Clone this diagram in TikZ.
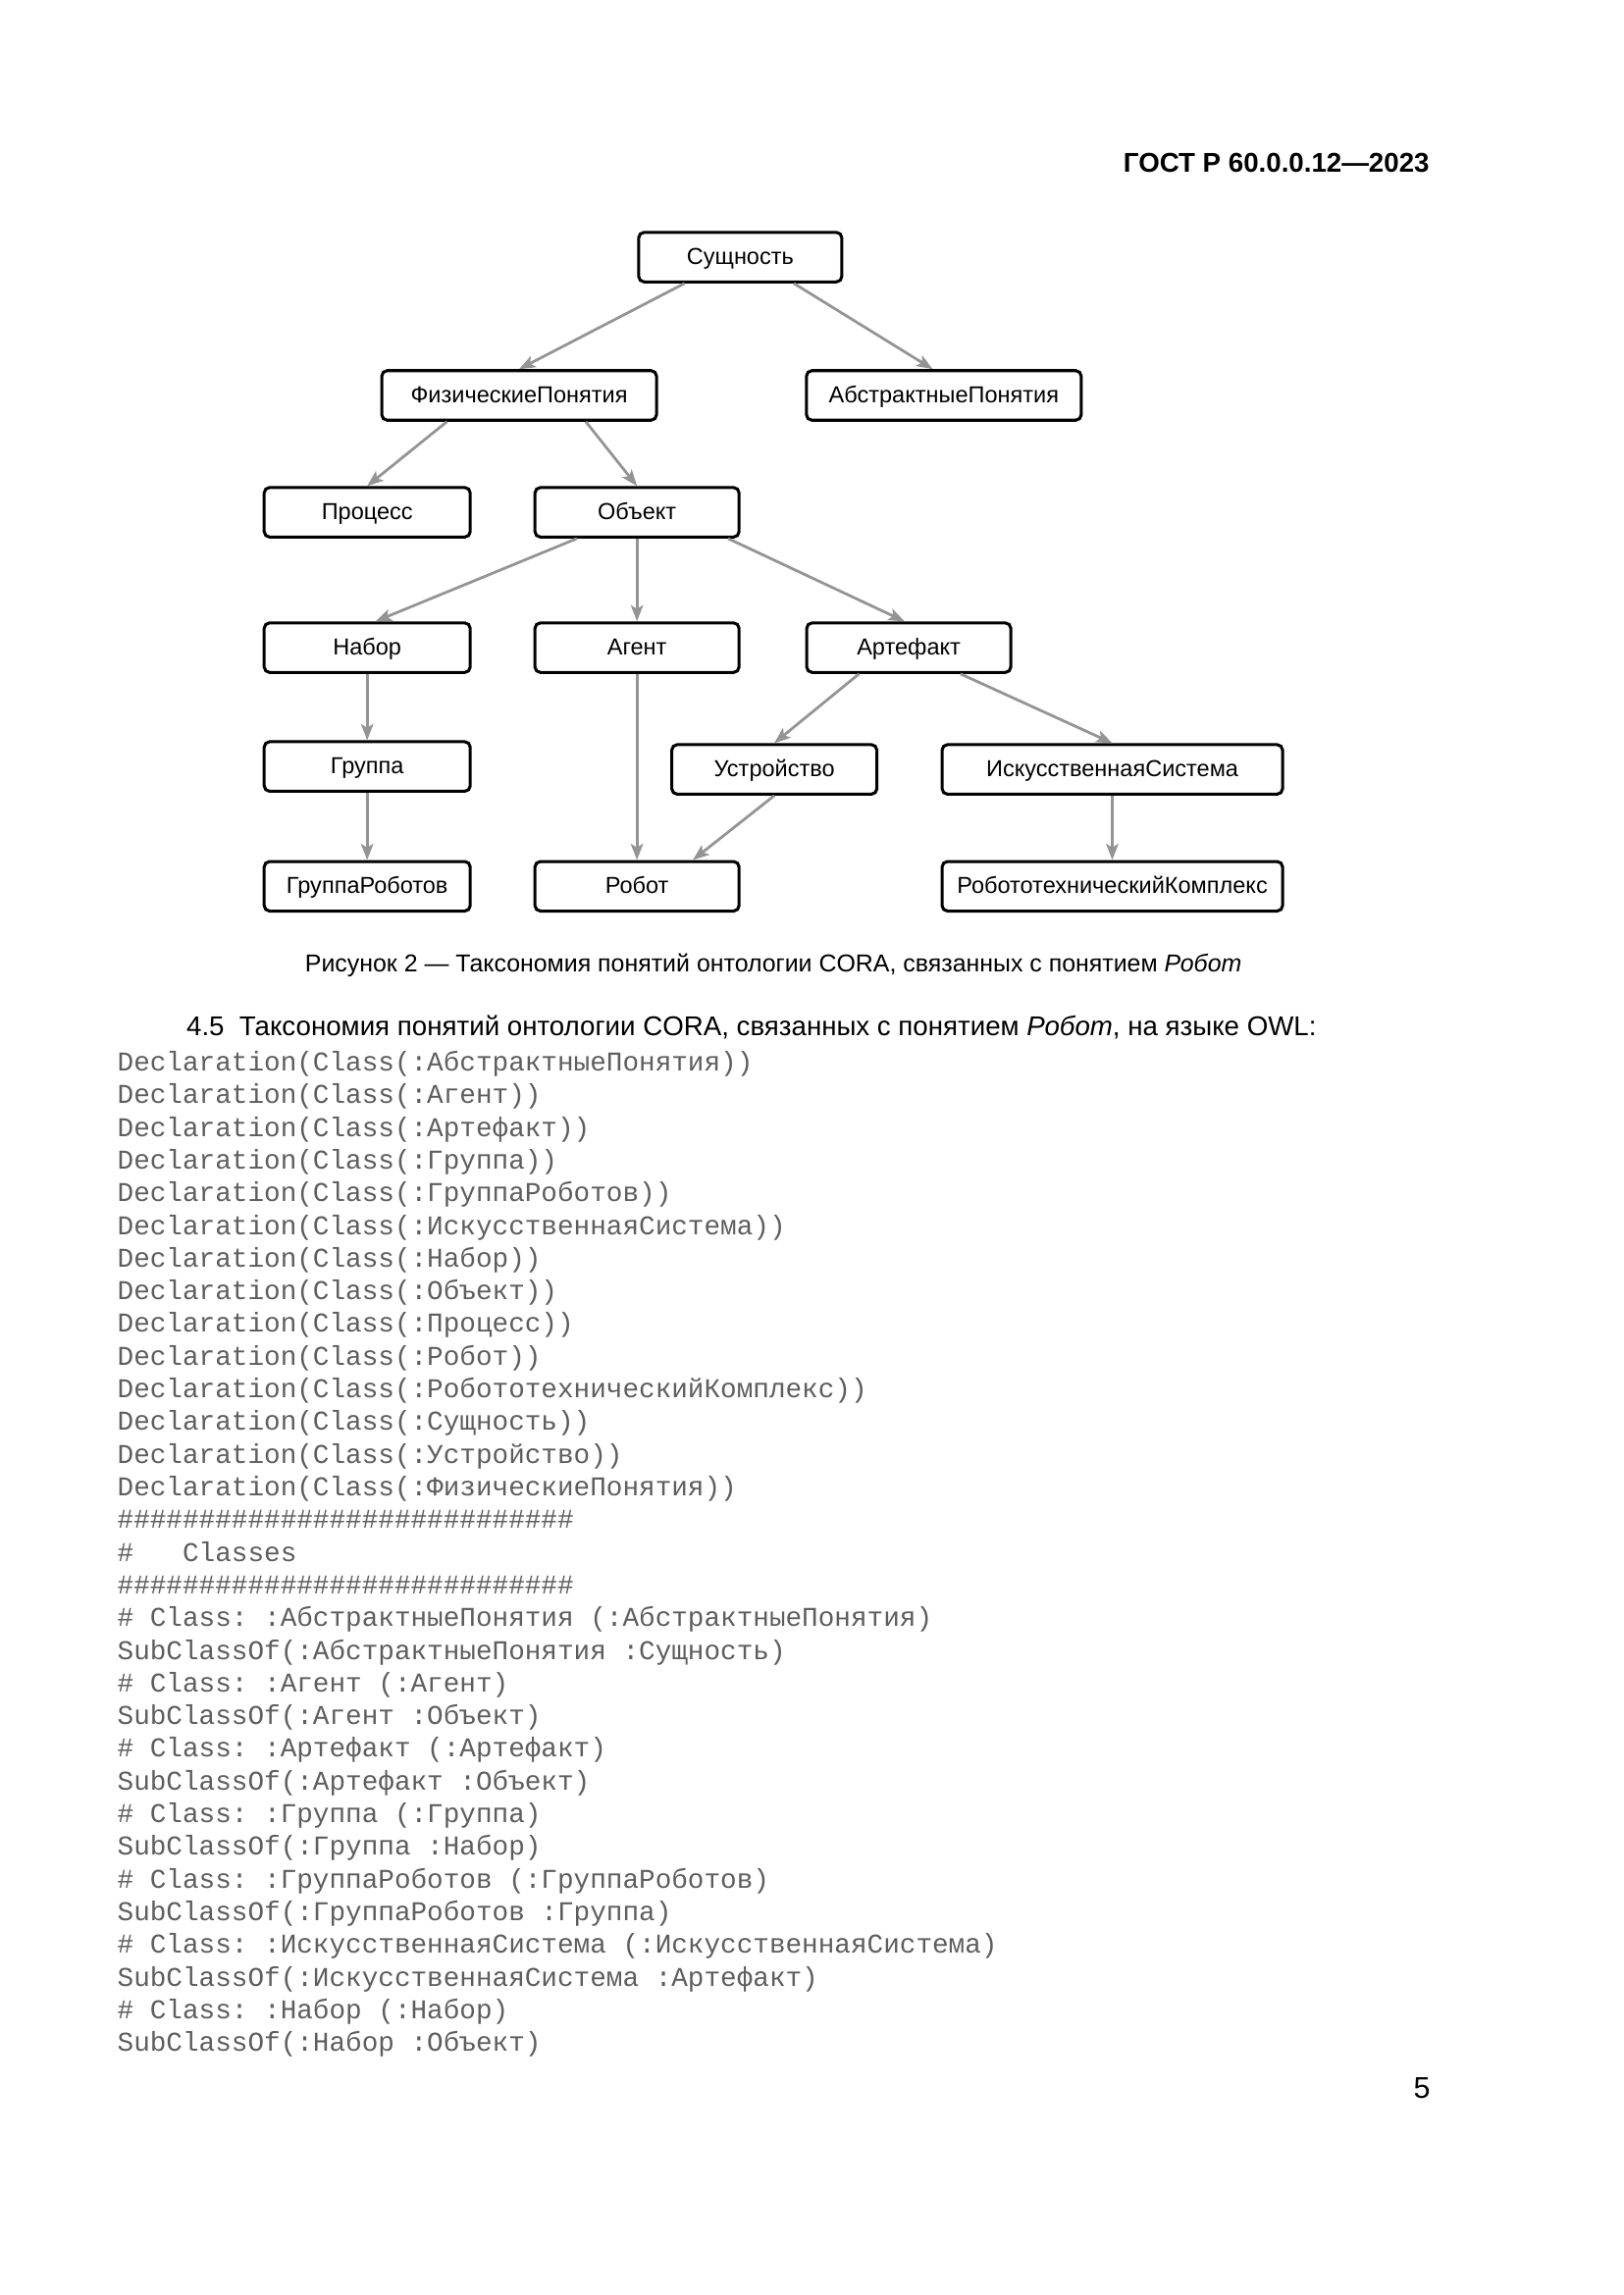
\documentclass[tikz,border=0pt]{standalone}
\usepackage{fontspec}
\setmainfont{Liberation Sans}
\setmonofont{Liberation Mono}
\usetikzlibrary{arrows.meta,calc}
\newlength\pxu \setlength\pxu{0.12697mm}
\definecolor{arrowgray}{gray}{0.58}
\definecolor{codegray}{gray}{0.37}
\begin{document}
\begin{tikzpicture}[x=\pxu,y=-\pxu,
 box/.style={draw,line width=1.1pt,rounded corners=2pt,minimum height=50.5\pxu,inner sep=0pt,text height=6.5pt,text depth=1pt,font=\fontsize{8.5}{10}\selectfont},
 edge/.style={draw=arrowgray,line width=1pt,-{Stealth[length=2.1mm,width=1.6mm,inset=0.5mm]}},
 code/.style={anchor=west,inner sep=0pt,font=\ttfamily\fontsize{10}{12}\selectfont,text=codegray}]
\fill[white] (0,0) rectangle (1654,2339);
\path[use as bounding box] (0,0) rectangle (1654,2339);
\begin{scope}[scale=0.9926]
\node[anchor=base east,inner sep=0pt,font=\bfseries\fontsize{10}{12}\selectfont] (hdr) at (1468,177) {ГОСТ Р 60.0.0.12—2023};

\node[box,minimum width=207\pxu] (ent) at (760,264) {Сущность};
\node[box,minimum width=280\pxu] (phys) at (533,406) {ФизическиеПонятия};
\node[box,minimum width=280\pxu] (abst) at (969,406) {АбстрактныеПонятия};
\node[box,minimum width=210\pxu] (proc) at (377,526) {Процесс};
\node[box,minimum width=208\pxu] (obj) at (654,526) {Объект};
\node[box,minimum width=210\pxu] (nab) at (377,665) {Набор};
\node[box,minimum width=208\pxu] (agent) at (654,665) {Агент};
\node[box,minimum width=208\pxu] (art) at (933,665) {Артефакт};
\node[box,minimum width=210\pxu] (grp) at (377,787) {Группа};
\node[box,minimum width=209\pxu] (dev) at (795,790) {Устройство};
\node[box,minimum width=347\pxu] (isys) at (1142,790) {ИскусственнаяСистема};
\node[box,minimum width=210\pxu] (grob) at (377,910) {ГруппаРоботов};
\node[box,minimum width=208\pxu] (robot) at (654,910) {Робот};
\node[box,minimum width=347\pxu] (rtk) at (1142,910) {РобототехническийКомплекс};

\draw[edge] ($(ent.south west)!0.23!(ent.south east)$) -- (phys.north);
\draw[edge] ($(ent.south west)!0.76!(ent.south east)$) -- ($(abst.north west)!0.46!(abst.north east)$);
\draw[edge] ($(phys.south west)!0.24!(phys.south east)$) -- (proc.north);
\draw[edge] ($(phys.south west)!0.74!(phys.south east)$) -- (obj.north);
\draw[edge] ($(obj.south west)!0.21!(obj.south east)$) -- ($(nab.north west)!0.54!(nab.north east)$);
\draw[edge] (obj.south) -- (agent.north);
\draw[edge] ($(obj.south west)!0.94!(obj.south east)$) -- ($(art.north west)!0.48!(art.north east)$);
\draw[edge] (nab.south) -- (grp.north);
\draw[edge] (grp.south) -- (grob.north);
\draw[edge] (agent.south) -- (robot.north);
\draw[edge] ($(art.south west)!0.26!(art.south east)$) -- (dev.north);
\draw[edge] ($(art.south west)!0.75!(art.south east)$) -- (isys.north);
\draw[edge] (dev.south) -- ($(robot.north west)!0.77!(robot.north east)$);
\draw[edge] (isys.south) -- (rtk.north);

\node[inner sep=0pt,font=\fontsize{9}{11}\selectfont] (cap) at (794,991) {Рисунок 2 — Таксономия понятий онтологии CORA, связанных с понятием \textit{Робот}};

\node[anchor=west,inner sep=0pt,font=\fontsize{10}{12}\selectfont] (head) at (191,1055) {4.5\ \ Таксономия понятий онтологии CORA, связанных с понятием \textit{Робот}, на языке OWL:};

\foreach \t [count=\i from 0] in {
Declaration(Class(:АбстрактныеПонятия)),
Declaration(Class(:Агент)),
Declaration(Class(:Артефакт)),
Declaration(Class(:Группа)),
Declaration(Class(:ГруппаРоботов)),
Declaration(Class(:ИскусственнаяСистема)),
Declaration(Class(:Набор)),
Declaration(Class(:Объект)),
Declaration(Class(:Процесс)),
Declaration(Class(:Робот)),
Declaration(Class(:РобототехническийКомплекс)),
Declaration(Class(:Сущность)),
Declaration(Class(:Устройство)),
Declaration(Class(:ФизическиеПонятия)),
{\#\#\#\#\#\#\#\#\#\#\#\#\#\#\#\#\#\#\#\#\#\#\#\#\#\#\#\#},
{\#\ \ \ Classes},
{\#\#\#\#\#\#\#\#\#\#\#\#\#\#\#\#\#\#\#\#\#\#\#\#\#\#\#\#},
{\#\ Class:\ :АбстрактныеПонятия\ (:АбстрактныеПонятия)},
{SubClassOf(:АбстрактныеПонятия\ :Сущность)},
{\#\ Class:\ :Агент\ (:Агент)},
{SubClassOf(:Агент\ :Объект)},
{\#\ Class:\ :Артефакт\ (:Артефакт)},
{SubClassOf(:Артефакт\ :Объект)},
{\#\ Class:\ :Группа\ (:Группа)},
{SubClassOf(:Группа\ :Набор)},
{\#\ Class:\ :ГруппаРоботов\ (:ГруппаРоботов)},
{SubClassOf(:ГруппаРоботов\ :Группа)},
{\#\ Class:\ :ИскусственнаяСистема\ (:ИскусственнаяСистема)},
{SubClassOf(:ИскусственнаяСистема\ :Артефакт)},
{\#\ Class:\ :Набор\ (:Набор)},
{SubClassOf(:Набор\ :Объект)}}
  \node[code] (c\i) at (120,1093+33.55*\i) {\strut\t};

\node[inner sep=0pt,font=\fontsize{11}{13}\selectfont] (pg) at (1460,2144) {5};
\end{scope}
\end{tikzpicture}
\end{document}
